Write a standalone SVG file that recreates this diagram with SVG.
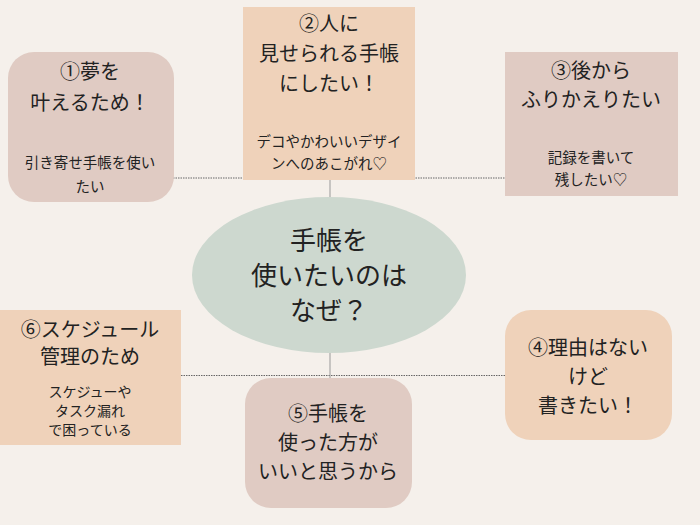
<svg xmlns="http://www.w3.org/2000/svg" width="700" height="525" viewBox="0 0 700 525">
<style>
text{font-family:"Noto Sans CJK JP","Noto Sans CJK SC",sans-serif;fill:#222;text-anchor:middle}
.t{font-size:20px}.s{font-size:14.5px}.x{font-size:14px}.c{font-size:26px}
.a{fill:#efd2ba}.b{fill:#e0cbc3}
.d{stroke:#666;stroke-width:1;stroke-dasharray:1.5 1;fill:none}
.v{stroke:#999;stroke-width:1;fill:none}
</style>
<rect width="700" height="525" fill="#f5f0eb"/>
<g id="connectors">
<line class="d" x1="173" y1="178" x2="505" y2="178"/>
<line class="v" x1="330" y1="180" x2="330" y2="198"/>
<line class="d" x1="181" y1="375.5" x2="505" y2="375.5"/>
<line class="v" x1="330" y1="352" x2="330" y2="378"/>
</g>
<g id="center"><ellipse cx="329" cy="275" rx="137" ry="78" fill="#cdd8cf"/>
<text class="c" x="329" y="250">手帳を</text><text class="c" x="329" y="285">使いたいのは</text><text class="c" x="329" y="320">なぜ？</text></g>
<g id="n1"><rect class="b" x="8" y="52" width="166" height="150" rx="26"/>
<text class="t" x="90" y="79">①夢を</text><text class="t" x="90" y="110">叶えるため！</text>
<text class="s" x="90" y="168">引き寄せ手帳を使い</text><text class="s" x="90" y="192">たい</text></g>
<g id="n2"><rect class="a" x="243" y="7" width="172" height="173"/>
<text class="t" x="329" y="31">②人に</text><text class="t" x="329" y="61">見せられる手帳</text><text class="t" x="329" y="91">にしたい！</text>
<text class="s" x="329" y="147">デコやかわいいデザイ</text><text class="s" x="329" y="169">ンへのあこがれ♡</text></g>
<g id="n3"><rect class="b" x="505" y="52" width="173" height="144"/>
<text class="t" x="591" y="78">③後から</text><text class="t" x="591" y="107">ふりかえりたい</text>
<text class="s" x="591" y="163">記録を書いて</text><text class="s" x="591" y="185">残したい♡</text></g>
<g id="n4"><rect class="a" x="505" y="310" width="167" height="130" rx="26"/>
<text class="t" x="588" y="355">④理由はない</text><text class="t" x="588" y="384">けど</text><text class="t" x="588" y="413">書きたい！</text></g>
<g id="n5"><rect class="b" x="245" y="378" width="167" height="130" rx="26"/>
<text class="t" x="328" y="421">⑤手帳を</text><text class="t" x="328" y="450">使った方が</text><text class="t" x="328" y="479">いいと思うから</text></g>
<g id="n6"><rect class="a" x="0" y="310" width="181" height="135"/>
<text class="t" x="90" y="337">⑥スケジュール</text><text class="t" x="90" y="364">管理のため</text>
<text class="x" x="90" y="397">スケジューや</text><text class="x" x="90" y="416">タスク漏れ</text><text class="x" x="90" y="435">で困っている</text></g>
</svg>
